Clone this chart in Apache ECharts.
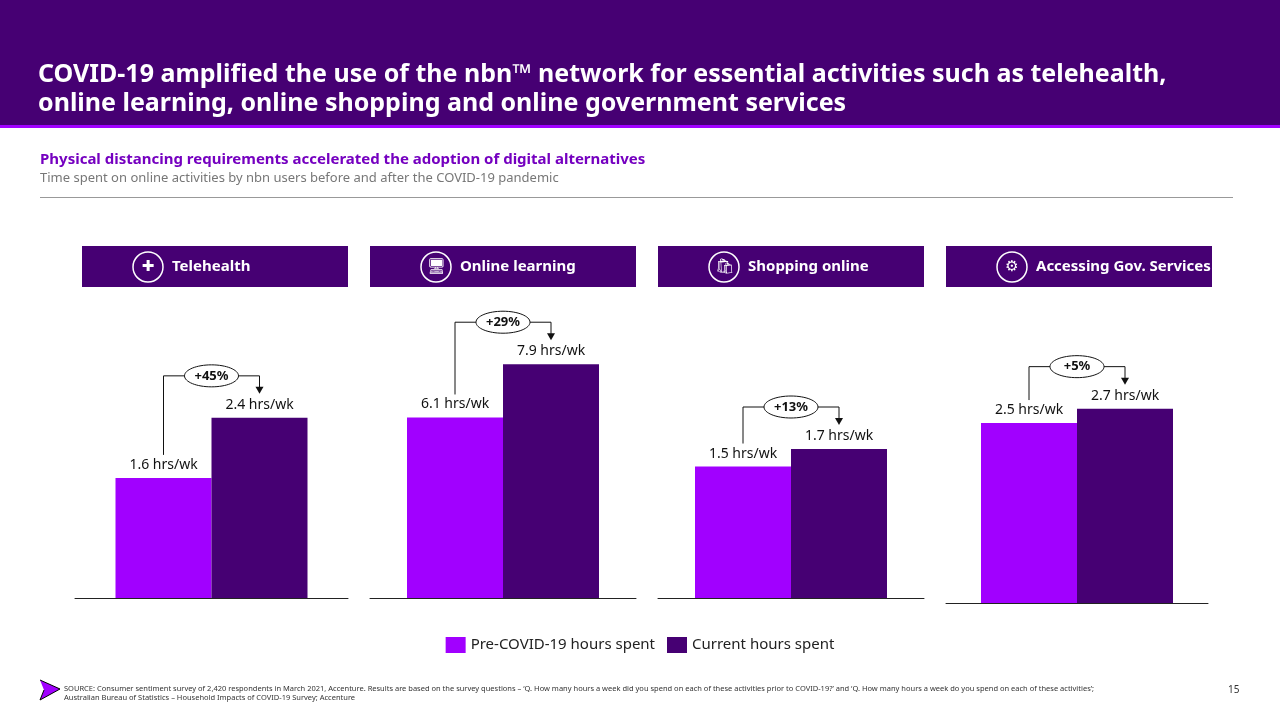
<!DOCTYPE html>
<html><head><meta charset="utf-8">
<script src="https://cdn.jsdelivr.net/npm/echarts@6/dist/echarts.min.js"></script>
<style>html,body{margin:0;padding:0;background:#fff}#chart{width:1280px;height:720px}</style>
</head><body><div id="chart"></div>
<script>
var panels = ['Telehealth', 'Online learning', 'Shopping online', 'Accessing Gov. Services'];
var icons = ['✚', '🖥', '🛍', '⚙'];
var preCovid = [1.6, 6.1, 1.5, 2.5];
var current = [2.4, 7.9, 1.7, 2.7];
var growth = ['+45%', '+29%', '+13%', '+5%'];
var axisMax = [3.97, 10.07, 3.4, 4.14];

var PRE = '#a100ff', CUR = '#460073';
var gridLeft = [75, 370, 658, 946];
var gridWidth = [273, 266, 266, 262];
var gridBottom = [598, 598, 598, 603];
var GH = 298, BW = 96;

var chart = echarts.init(document.getElementById('chart'));
var grids = [], xAxes = [], yAxes = [], series = [];
panels.forEach(function (p, i) {
  grids.push({left: gridLeft[i], top: gridBottom[i] - GH, width: gridWidth[i], height: GH});
  xAxes.push({type: 'category', gridIndex: i, data: [p], axisTick: {show: false},
    axisLabel: {show: false}, axisLine: {lineStyle: {color: '#222', width: 1}}});
  yAxes.push({type: 'value', gridIndex: i, min: 0, max: axisMax[i], show: false, splitLine: {show: false}});
  [['Pre-COVID-19 hours spent', preCovid, PRE], ['Current hours spent', current, CUR]].forEach(function (s) {
    series.push({name: s[0], type: 'bar', xAxisIndex: i, yAxisIndex: i, data: [s[1][i]],
      barWidth: BW, barGap: '0%', itemStyle: {color: s[2]},
      label: {show: true, position: 'top', distance: 6, formatter: '{c} hrs/wk',
        color: '#111', fontSize: 14, fontFamily: 'Noto Sans'}});
  });
});

var graphic = [
  {type: 'rect', shape: {x: 0, y: 0, width: 1280, height: 125}, style: {fill: CUR}},
  {type: 'rect', shape: {x: 0, y: 125, width: 1280, height: 3}, style: {fill: PRE}},
  {type: 'text', left: 38, top: 60, style: {text: 'COVID-19 amplified the use of the nbn\u2122 network for essential activities such as telehealth,\nonline learning, online shopping and online government services',
    fill: '#fff', font: 'bold 25px "Noto Sans"', lineHeight: 29}},
  {type: 'text', left: 40, top: 152, style: {text: 'Physical distancing requirements accelerated the adoption of digital alternatives', fill: '#7500c0', font: 'bold 15px "Noto Sans"'}},
  {type: 'text', left: 40, top: 172, style: {text: 'Time spent on online activities by nbn users before and after the COVID-19 pandemic', fill: '#777', font: '13px "Noto Sans"'}},
  {type: 'rect', shape: {x: 40, y: 197, width: 1193, height: 1}, style: {fill: '#999'}},
  {type: 'polyline', shape: {points: [[40, 680], [60, 689], [40, 700], [44, 690]]}, style: {fill: PRE}},
  {type: 'text', left: 64, top: 684, style: {text: 'SOURCE: Consumer sentiment survey of 2,420 respondents in March 2021, Accenture. Results are based on the survey questions \u2013 \u2018Q. How many hours a week did you spend on each of these activities prior to COVID-19?\u2019 and \u2018Q. How many hours a week do you spend on each of these activities\u2019;\nAustralian Bureau of Statistics \u2013 Household Impacts of COVID-19 Survey; Accenture', fill: '#333', font: '7.5px "Noto Sans"', lineHeight: 9}},
  {type: 'text', left: 1228, top: 685, style: {text: '15', fill: '#333', font: '10px "Noto Sans"'}}
];
var headerLeft = [82, 370, 658, 946], headerW = [266, 266, 266, 266];
panels.forEach(function (p, i) {
  var x = headerLeft[i];
  graphic.push({type: 'rect', shape: {x: x, y: 246, width: headerW[i], height: 41}, style: {fill: CUR}});
  graphic.push({type: 'circle', shape: {cx: x + 66, cy: 267, r: 15}, style: {fill: 'none', stroke: '#fff', lineWidth: 1.5}});
  graphic.push({type: 'text', x: x + 66, y: 267, style: {text: icons[i], fill: '#fff', font: '15px "DejaVu Sans"', align: 'center', verticalAlign: 'middle'}});
  graphic.push({type: 'text', x: x + 90, y: 267, style: {text: p, fill: '#fff', font: 'bold 15px "Noto Sans"', verticalAlign: 'middle'}});
});

chart.setOption({
  animation: false,
  grid: grids, xAxis: xAxes, yAxis: yAxes, series: series,
  legend: {bottom: 62, left: 'center', itemWidth: 20, itemHeight: 16, itemGap: 12,
    icon: 'rect', textStyle: {fontSize: 15, fontFamily: 'Noto Sans', color: '#222'},
    data: ['Pre-COVID-19 hours spent', 'Current hours spent']},
  graphic: graphic
});

// growth brackets, positioned from the axes
var extra = [];
panels.forEach(function (p, i) {
  var c = chart.convertToPixel({gridIndex: i}, [0, preCovid[i]]);
  var t = chart.convertToPixel({gridIndex: i}, [0, current[i]]);
  var xl = c[0] - BW / 2, xr = c[0] + BW / 2;
  var topY = t[1] - 42, preY = c[1] - 23, curY = t[1] - 24;
  extra.push({type: 'polyline', shape: {points: [[xl, preY], [xl, topY], [xr, topY], [xr, curY - 6]]},
    style: {stroke: '#111', lineWidth: 1, fill: null}});
  extra.push({type: 'polygon', shape: {points: [[xr - 4, curY - 7], [xr + 4, curY - 7], [xr, curY]]}, style: {fill: '#111'}});
  extra.push({type: 'ellipse', shape: {cx: c[0], cy: topY, rx: 27, ry: 11}, style: {fill: '#fff', stroke: '#111', lineWidth: 1}});
  extra.push({type: 'text', x: c[0], y: topY, style: {text: growth[i], fill: '#111', font: 'bold 13px "Noto Sans"', align: 'center', verticalAlign: 'middle'}});
});
chart.setOption({graphic: graphic.concat(extra)});
</script></body></html>
